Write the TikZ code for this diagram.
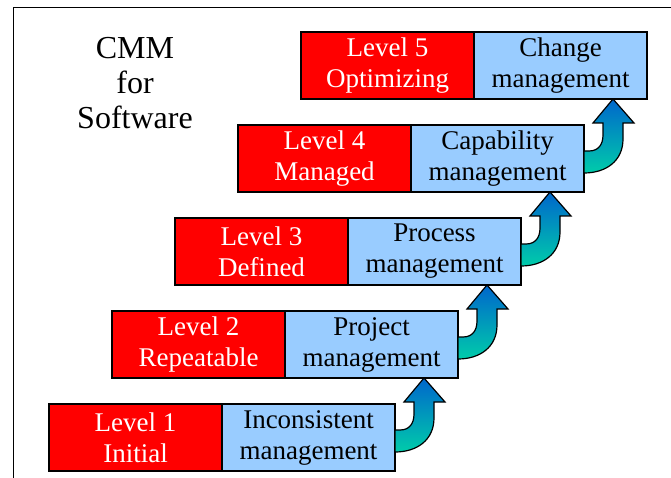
\documentclass[tikz,border=0pt]{standalone}
\usepackage{fontspec}
\setmainfont{Liberation Serif}
\usetikzlibrary{positioning,calc}
\definecolor{levelred}{HTML}{FF0000}
\definecolor{focusblue}{HTML}{99CCFF}
\definecolor{arrowtop}{HTML}{0066CC}
\definecolor{arrowmid}{HTML}{22CCE0}
\definecolor{arrowbot}{HTML}{00CCAA}
\tikzset{
  levelbox/.style={draw=black, fill=levelred, line width=1.4pt, outer sep=0pt,
                   minimum width=173pt, minimum height=67pt, inner sep=0pt,
                   align=center, text=white, font=\fontsize{27}{31}\selectfont},
  focusbox/.style={levelbox, fill=focusblue, text=black},
  stairarrow/.style={draw=black, line width=1.2pt,
                     top color=arrowtop, middle color=arrowmid, bottom color=arrowbot}
}

\begin{document}
\begin{tikzpicture}[x=1pt,y=-1pt]
  \useasboundingbox (0,0) rectangle (671,478);
  \clip (0,0) rectangle (671,478);

  % Frame
  \draw[line width=1.6pt, draw=black] (13.5,7.5) rectangle (700,520);

  % Title
  \node[font=\fontsize{32}{35}\selectfont, align=center] (title) at (135,83) {CMM\\for\\Software};

  % Level steps
  \node[levelbox] (r1) at (135.5,437.5) {Level 1\\Initial};
  \node[focusbox, right=0pt of r1] (b1) {Inconsistent\\management};

  \node[levelbox] (r2) at (198.5,344.5) {Level 2\\Repeatable};
  \node[focusbox, right=0pt of r2] (b2) {Project\\management};

  \node[levelbox] (r3) at (261.5,251.5) {Level 3\\Defined};
  \node[focusbox, right=0pt of r3] (b3) {Process\\management};

  \node[levelbox] (r4) at (324.5,158.5) {Level 4\\Managed};
  \node[focusbox, right=0pt of r4] (b4) {Capability\\management};

  \node[levelbox] (r5) at (387.5,65.5) {Level 5\\Optimizing};
  \node[focusbox, right=0pt of r5] (b5) {Change\\management};

  % Curved arrows up to the next level
  \foreach \lo/\hi in {b1/b2,b2/b3,b3/b4,b4/b5} {
    \coordinate (o) at (\lo.east |- \hi.south);
    \draw[stairarrow, shift={(o)}] (29,0) -- (50,24) -- (39,24) -- (39,40)
      .. controls (39,62) and (22,74) .. (0,74) -- (0,52) -- (5,52)
      .. controls (14,52) and (19,46) .. (19,36) -- (19,24) -- (9,24) -- cycle;
  }
\end{tikzpicture}
\end{document}
